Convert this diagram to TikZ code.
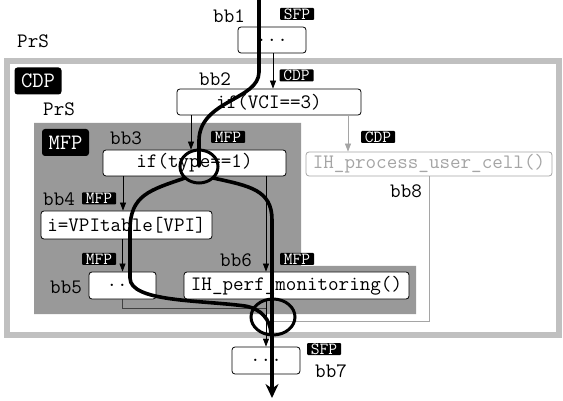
\documentclass[tikz,border=0pt]{standalone}
\usepackage{fontspec}
\usetikzlibrary{arrows.meta,positioning}
\definecolor{framegray}{RGB}{192,192,192}
\definecolor{mfpgray}{RGB}{153,153,153}
\definecolor{deadgray}{RGB}{165,165,165}

\begin{document}
\begin{tikzpicture}[x=1pt, y=-1pt,
    bb/.style={draw, rounded corners=3pt, fill=white, line width=0.8pt,
               font=\fontsize{20.5}{20.5}\selectfont\ttfamily, inner sep=0pt,
               minimum height=26pt},
    deadbb/.style={bb, draw=deadgray, text=deadgray},
    lbl/.style={font=\fontsize{20.5}{20.5}\selectfont\ttfamily,
                anchor=base west, inner sep=0pt},
    tag/.style={fill=black, text=white, rounded corners=1pt, inner sep=0pt,
                font=\fontsize{17}{17}\selectfont\ttfamily,
                minimum width=34pt, minimum height=12pt},
    bigtag/.style={fill=black, text=white, rounded corners=3pt, inner sep=0pt,
                   font=\fontsize{22}{22}\selectfont\ttfamily,
                   minimum width=47pt, minimum height=27pt},
    flow/.style={line width=0.8pt, -{Triangle[length=8pt,width=6pt]}},
    deadflow/.style={flow, draw=deadgray, fill=deadgray},
    trace/.style={line width=3.6pt, line cap=round}
  ]
    \useasboundingbox (0,0) rectangle (563,401);

    % Regions: CDP frame and MFP area
    \draw[line width=6pt, framegray] (7,61) rectangle (559,335);
    \fill[mfpgray] (34,123) -- (301,123) -- (301,266) -- (416,266)
      -- (416,314) -- (34,314) -- cycle;

    % Region labels
    \node[lbl] (prs1) at (17,48) {PrS};
    \node[bigtag] (cdp) at (38,81) {CDP};
    \node[lbl] (prs2) at (43,116) {PrS};
    \node[bigtag] (mfp) at (65.5,142.5) {MFP};

    % Basic blocks
    \node[bb, minimum width=68pt] (bb1) at (272,40) {...};
    \node[bb, minimum width=184pt] (bb2) at (269,102) {if(VCI==3)};
    \node[bb, minimum width=183pt] (bb3) at (194.5,163) {if(type==1)};
    \node[deadbb, minimum width=246pt, minimum height=24pt] (bb8) at (429,164)
      {IH\_process\_user\_cell()};
    \node[bb, minimum width=171pt, minimum height=28pt] (bb4) at (126.5,225)
      {i=VPItable[VPI]};
    \node[bb, minimum width=67pt, minimum height=27pt] (bb5) at (122.5,285.5) {...};
    \node[bb, minimum width=225pt, minimum height=27pt] (bb6) at (296.5,285.5)
      {IH\_perf\_monitoring()};
    \node[bb, minimum width=68pt, minimum height=27pt] (bb7) at (266,360.5) {...};

    % Block names
    \node[lbl] (n1) at (213,23) {bb1};
    \node[lbl] (n2) at (199,86) {bb2};
    \node[lbl] (n3) at (110,145) {bb3};
    \node[lbl] (n4) at (43,206) {bb4};
    \node[lbl] (n5) at (50,294) {bb5};
    \node[lbl] (n6) at (220,267) {bb6};
    \node[lbl] (n7) at (315,377) {bb7};
    \node[lbl] (n8) at (390,198) {bb8};

    % Partition tags
    \node[tag] (t1) at (297,14) {SFP};
    \node[tag] (t2) at (296.5,75.5) {CDP};
    \node[tag] (t3) at (228,137) {MFP};
    \node[tag] (t8) at (378,137) {CDP};
    \node[tag] (t4) at (99,198.5) {MFP};
    \node[tag] (t5) at (99,259) {MFP};
    \node[tag] (t6) at (297,259) {MFP};
    \node[tag] (t7) at (324,349) {SFP};

    % Control flow edges
    \coordinate (join) at (266,308);
    \coordinate (join8) at (266,321);
    \draw[flow] ([xshift=1pt]bb1.south) -- ([xshift=1pt]bb1.south |- bb2.north);
    \draw[flow] ([xshift=-3.5pt]bb3.north |- bb2.south) -- ([xshift=-3.5pt]bb3.north);
    \draw[deadflow] ([xshift=-81pt]bb8.north |- bb2.south) -- ([xshift=-81pt]bb8.north);
    \draw[flow] ([xshift=-3.5pt]bb4.north |- bb3.south) -- ([xshift=-3.5pt]bb4.north);
    \draw[flow] (bb5.north |- bb4.south) -- (bb5.north);
    \draw[flow] ([xshift=-30.5pt]bb6.north |- bb3.south) -- ([xshift=-30.5pt]bb6.north);
    \draw[flow] (bb7.north |- bb6.south) -- (bb7.north);
    \draw[line width=0.8pt, black!75] (bb5.south) |- (join);
    \draw[line width=0.8pt, deadgray] (bb8.south) |- (join8);

    % Traced path with split and merge
    \draw[trace] (259,0) -- (259,72) .. controls (259,100) and (200,100) .. (199,140)
      -- (199,166);
    \draw[trace, line width=3pt] (199,166.5) ellipse [x radius=19pt, y radius=16.5pt];
    \draw[trace] (185,178) .. controls (150,190) and (130,195) .. (130,230)
      -- (130,278) .. controls (130,302) and (200,300) .. (245,306)
      .. controls (262,309) and (270,320) .. (271,333);
    \draw[trace, line cap=butt, -{Stealth[length=14pt,width=13pt]}]
      (213,178) .. controls (250,186) and (272,190) .. (272,220) -- (272,398);
    \draw[trace, line width=3pt] (273,317) ellipse [x radius=22pt, y radius=18pt];
\end{tikzpicture}
\end{document}
